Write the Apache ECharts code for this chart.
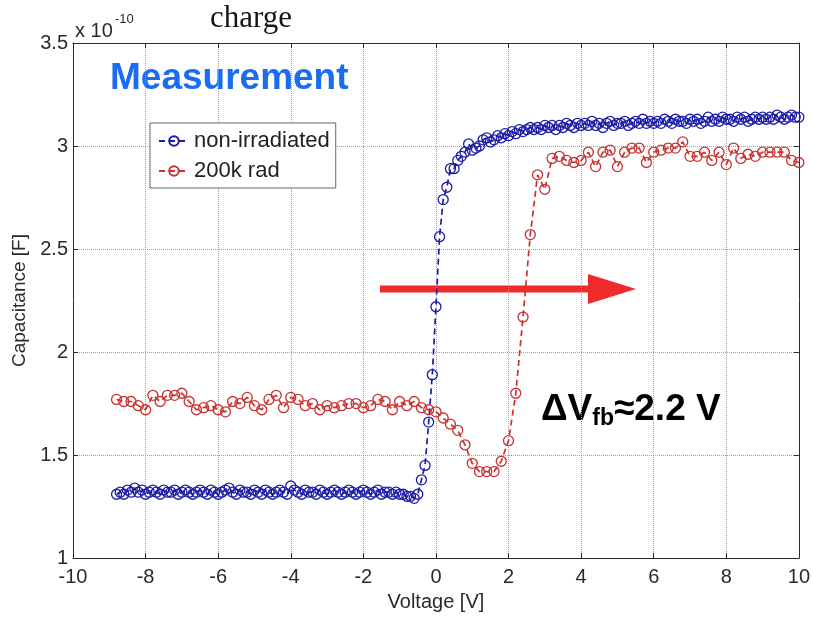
<!DOCTYPE html>
<html><head><meta charset="utf-8">
<script src="https://cdn.jsdelivr.net/npm/echarts@6/dist/echarts.min.js"></script>
<style>html,body{margin:0;padding:0;background:#fff}#c{width:813px;height:617px}</style>
</head><body><div id="c"></div>
<script>
// Voltage sweep grids (V)
const blueVoltageStart = -8.8, blueVoltageStep = 0.1;
const redVoltageStart = -8.8, redVoltageStep = 0.2;

// Capacitance (x 1e-10 F), non-irradiated, -8.8 .. 10.0 V step 0.1
const nonIrradiated = [
  1.31,1.32,1.31,1.33,1.32,1.34,1.32,1.33,1.31,
  1.32,1.33,1.32,1.31,1.33,1.32,1.32,1.33,1.31,1.32,
  1.33,1.32,1.31,1.32,1.33,1.32,1.31,1.33,1.32,1.31,
  1.32,1.33,1.34,1.32,1.31,1.33,1.32,1.32,1.31,1.33,
  1.32,1.31,1.33,1.32,1.31,1.32,1.33,1.32,1.31,1.35,
  1.33,1.32,1.31,1.33,1.32,1.32,1.31,1.33,1.32,1.31,
  1.32,1.33,1.32,1.31,1.32,1.33,1.32,1.31,1.32,1.33,
  1.32,1.31,1.32,1.33,1.31,1.32,1.32,1.31,1.32,1.31,
  1.31,1.30,1.30,1.29,1.31,
  1.38,1.45,1.66,1.89,2.22,2.56,2.74,2.80,2.89,2.89,
  2.93,2.95,2.97,3.01,2.98,2.99,3.00,3.03,3.04,3.02,
  3.03,3.05,3.04,3.06,3.05,3.07,3.06,3.08,3.07,3.08,
  3.09,3.08,3.09,3.08,3.10,
  3.09,3.10,3.08,3.10,3.09,3.11,3.10,3.09,3.11,3.10,
  3.11,3.10,3.12,3.10,3.11,3.09,3.11,3.12,3.10,3.11,
  3.11,3.12,3.10,3.11,3.12,3.11,3.13,3.11,3.12,3.11,
  3.12,3.11,3.13,3.12,3.11,3.13,3.12,3.12,3.11,3.13,
  3.12,3.13,3.11,3.12,3.14,3.12,3.13,3.12,3.14,3.13,
  3.13,3.12,3.14,3.13,3.14,3.12,3.13,3.14,3.13,3.14,
  3.13,3.14,3.13,3.15,3.14,3.13,3.14,3.15,3.14,3.14
];

// Capacitance (x 1e-10 F), 200k rad, -8.8 .. 10.0 V step 0.2
const rad200k = [
  1.77,1.76,1.76,1.74,1.72,1.79,1.76,1.79,1.79,1.80,
  1.76,1.72,1.73,1.74,1.72,1.71,1.76,1.75,1.78,1.74,
  1.72,1.77,1.79,1.73,1.78,1.77,1.74,1.75,1.72,1.74,
  1.73,1.74,1.75,1.75,1.73,1.74,1.77,1.76,1.72,1.76,
  1.74,1.76,1.73,1.72,1.71,
  1.68,1.65,1.62,1.55,1.46,1.42,1.42,1.42,1.47,1.57,
  1.80,2.17,2.57,2.86,2.79,2.94,2.95,2.93,2.92,2.93,
  2.97,2.90,2.97,2.98,2.90,2.97,2.99,2.99,2.92,2.97,
  2.98,2.99,2.99,3.02,2.95,2.95,2.97,2.93,2.97,2.91,
  2.99,2.94,2.96,2.95,2.97,2.97,2.97,2.97,2.93,2.92
];

const seriesNames = ['non-irradiated', '200k rad'];
const xRange = [-10, 10], xStep = 2;
const yRange = [1, 3.5], yStep = 0.5;

const blueData = nonIrradiated.map((c, i) => [+(blueVoltageStart + i * blueVoltageStep).toFixed(2), c]);
const redData = rad200k.map((c, i) => [+(redVoltageStart + i * redVoltageStep).toFixed(2), c]);

const FONT = "'Liberation Sans', Arial, sans-serif";
const BLUE = '#1c1ca6';
const RED = '#c83232';
const AX = '#2a2a2a';

const chart = echarts.init(document.getElementById('c'), null, {renderer: 'canvas'});

function lineSeries(name, data, color) {
  return {
    name, type: 'line', data,
    xAxisIndex: 0, yAxisIndex: 0,
    symbol: 'circle', symbolSize: 10, showSymbol: true,
    itemStyle: {color: 'rgba(255,255,255,0)', borderColor: color, borderWidth: 1.3},
    lineStyle: {color, width: 1.7, type: [6, 4]},
    emphasis: {disabled: true},
    animation: false
  };
}

chart.setOption({
  animation: false,
  backgroundColor: '#fff',
  grid: {left: 73, right: 13, top: 43, bottom: 57, containLabel: false},
  legend: {
    data: seriesNames,
    orient: 'vertical', left: 150, top: 123,
    backgroundColor: '#fff', borderColor: '#666', borderWidth: 1, borderRadius: 0,
    padding: [6, 6, 5, 8], itemGap: 6, itemWidth: 30, itemHeight: 12,
    textStyle: {fontSize: 22, fontFamily: FONT, color: '#222', lineHeight: 24}
  },
  xAxis: [{
    type: 'value', min: xRange[0], max: xRange[1], interval: xStep, position: 'bottom',
    name: 'Voltage [V]', nameLocation: 'middle', nameGap: 33,
    nameTextStyle: {fontSize: 20, fontFamily: FONT, color: AX},
    axisLine: {show: true, onZero: false, lineStyle: {color: AX, width: 1}},
    axisTick: {show: true, inside: true, length: 5, lineStyle: {color: AX}},
    axisLabel: {fontSize: 20, fontFamily: FONT, color: AX, margin: 9},
    splitLine: {show: true, lineStyle: {type: 'dotted', color: '#a0a0a0', width: 1}}
  }, {
    type: 'value', min: xRange[0], max: xRange[1], interval: xStep, position: 'top',
    axisLine: {show: true, onZero: false, lineStyle: {color: AX, width: 1}},
    axisTick: {show: true, inside: true, length: 5, lineStyle: {color: AX}},
    axisLabel: {show: false}, splitLine: {show: false}
  }],
  yAxis: [{
    type: 'value', min: yRange[0], max: yRange[1], interval: yStep, position: 'left',
    name: 'Capacitance [F]', nameLocation: 'middle', nameGap: 44, nameRotate: 90,
    nameTextStyle: {fontSize: 19, fontFamily: FONT, color: AX},
    axisLine: {show: true, onZero: false, lineStyle: {color: AX, width: 1}},
    axisTick: {show: true, inside: true, length: 5, lineStyle: {color: AX}},
    axisLabel: {fontSize: 20, fontFamily: FONT, color: AX, margin: 5, formatter: v => String(v)},
    splitLine: {show: true, lineStyle: {type: 'dotted', color: '#a0a0a0', width: 1}}
  }, {
    type: 'value', min: yRange[0], max: yRange[1], interval: yStep, position: 'right',
    axisLine: {show: true, onZero: false, lineStyle: {color: AX, width: 1}},
    axisTick: {show: true, inside: true, length: 5, lineStyle: {color: AX}},
    axisLabel: {show: false}, splitLine: {show: false}
  }],
  series: [
    lineSeries(seriesNames[0], blueData, BLUE),
    lineSeries(seriesNames[1], redData, RED)
  ],
  graphic: [
    {type: 'text', x: 210, y: 3, style: {text: 'charge', font: "31px 'Liberation Serif', serif", fill: '#151515'}},
    {type: 'text', x: 75, y: 21, style: {text: 'x 10', font: "20px " + FONT, fill: AX}},
    {type: 'text', x: 115, y: 13, style: {text: '-10', font: "13px " + FONT, fill: AX}},
    {type: 'text', x: 110, y: 60, style: {text: 'Measurement', font: "bold 37px 'Liberation Sans', Arial, sans-serif", fill: '#1a6cf2'}},
    {type: 'polygon', shape: {points: [[380, 285.5], [588, 285.5], [588, 274], [636, 289], [588, 304], [588, 292.5], [380, 292.5]]}, style: {fill: '#f02a2a'}},
    {type: 'text', x: 541, y: 390, style: {
      text: '{a|ΔV}{b|fb}{a|≈2.2 V}',
      rich: {
        a: {font: "bold 37px 'Liberation Sans', Arial, sans-serif", fill: '#000', lineHeight: 40, verticalAlign: 'middle'},
        b: {font: "bold 23px 'Liberation Sans', Arial, sans-serif", fill: '#000', lineHeight: 40, verticalAlign: 'bottom'}
      }
    }}
  ]
});
</script>
</body></html>
